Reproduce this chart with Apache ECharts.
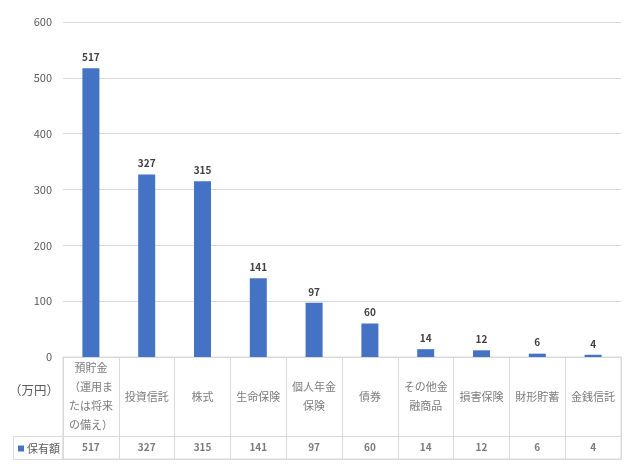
<!DOCTYPE html>
<html><head><meta charset="utf-8">
<script src="https://cdn.jsdelivr.net/npm/echarts@6/dist/echarts.min.js"></script>
<style>html,body{margin:0;padding:0;background:#fff}#c{width:625px;height:464px}</style>
</head><body><div id="c"></div>
<script>
const categories = ['預貯金（運用または将来の備え）','投資信託','株式','生命保険','個人年金保険','債券','その他金融商品','損害保険','財形貯蓄','金銭信託'];
const tickLabels = ['預貯金\n（運用ま\nたは将来\nの備え）','投資信託','株式','生命保険','個人年金\n保険','債券','その他金\n融商品','損害保険','財形貯蓄','金銭信託'];
const values = [517,327,315,141,97,60,14,12,6,4];
const seriesName = '保有額';
const unitLabel = '（万円）';
const yTicks = [0,100,200,300,400,500,600];

const FONT = '"Noto Sans CJK JP", "Noto Sans", sans-serif';
const GRAY = '#595959';
const LINE = '#d9d9d9';
const BLUE = '#4472C4';

const chart = echarts.init(document.getElementById('c'), null, {renderer:'canvas'});
chart.setOption({
  animation:false,
  textStyle:{fontFamily:FONT},
  grid:[
    {left:63,right:4,top:22,bottom:107},
    {left:63,right:4,top:357,height:102,show:true,borderColor:LINE,borderWidth:1,backgroundColor:'transparent'}
  ],
  legend:{
    data:[seriesName], left:13, top:438, icon:'rect', itemWidth:6, itemHeight:6, itemGap:0,
    textStyle:{color:GRAY,fontSize:11,fontFamily:FONT,padding:[0,0,0,-2]}, selectedMode:false
  },
  xAxis:[
    {type:'category',gridIndex:0,data:categories,axisLine:{show:true,lineStyle:{color:LINE}},axisTick:{show:false},axisLabel:{show:false}},
    {type:'category',gridIndex:1,data:categories,axisLine:{show:true,lineStyle:{color:LINE}},axisTick:{show:false,interval:0},axisLabel:{show:false,interval:0},
     splitLine:{show:true,interval:0,lineStyle:{color:LINE}}}
  ],
  yAxis:[
    {type:'value',gridIndex:0,min:yTicks[0],max:yTicks[yTicks.length-1],interval:100,
     axisLine:{show:false},axisTick:{show:false},
     axisLabel:{color:GRAY,fontSize:11,margin:11,fontFamily:FONT},
     splitLine:{lineStyle:{color:LINE}}},
    {type:'value',gridIndex:1,min:0,max:102,show:false}
  ],
  graphic:[
    {type:'rect',shape:{x:13.5,y:436.5,width:49.5,height:23},style:{fill:'none',stroke:LINE,lineWidth:1},silent:true},
    {type:'text',left:9,top:384,style:{text:unitLabel,fill:GRAY,fontSize:12.5,fontFamily:FONT}}
  ],
  series:[
    {name:seriesName,type:'bar',xAxisIndex:0,yAxisIndex:0,data:values,barWidth:17,
     itemStyle:{color:BLUE},
     label:{show:true,position:'top',distance:6,color:'#404040',fontSize:10,fontWeight:'bold',fontFamily:FONT}},
    {type:'scatter',xAxisIndex:1,yAxisIndex:1,symbolSize:0,silent:true,
     data:categories.map((c,i)=>[c,62.5,i]),
     label:{show:true,position:'inside',color:GRAY,fontSize:11,lineHeight:19,align:'center',verticalAlign:'middle',fontFamily:FONT,
       formatter:p=>tickLabels[p.value[2]]},
     markLine:{silent:true,symbol:'none',label:{show:false},lineStyle:{color:LINE,type:'solid',width:1},data:[{yAxis:23}]}},
    {type:'scatter',xAxisIndex:1,yAxisIndex:1,symbolSize:0,silent:true,
     data:categories.map((c,i)=>[c,11.5,values[i]]),
     label:{show:true,position:'inside',color:GRAY,fontSize:10,fontWeight:'bold',align:'center',verticalAlign:'middle',fontFamily:FONT,
       formatter:p=>String(p.value[2])}}
  ]
});
</script></body></html>
